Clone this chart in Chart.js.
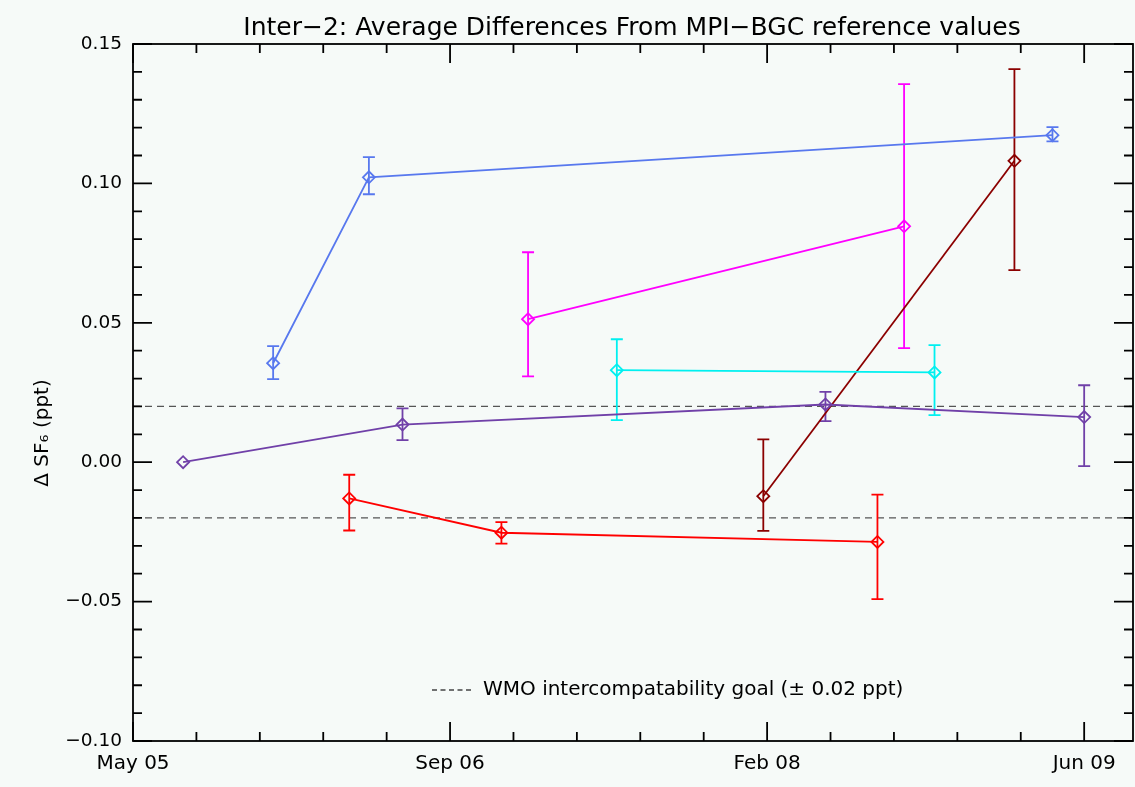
<!DOCTYPE html>
<html>
<head>
<meta charset="utf-8">
<script src="https://cdn.jsdelivr.net/npm/chart.js@4.4.1/dist/chart.umd.min.js"></script>
<style>
  body { margin: 0; background: #f6faf8; }
  #wrap { width: 1135px; height: 787px; }
</style>
</head>
<body>
<div id="wrap"><canvas id="sf6Chart" width="1135" height="787"></canvas></div>
<script>
// x values are days counted from the first date tick (May 05)
const dateTickDays = [0, 500, 1000, 1500];
const dateTickLabels = ['May 05', 'Sep 06', 'Feb 08', 'Jun 09'];
const yTickValues = [-0.10, -0.05, 0.00, 0.05, 0.10, 0.15];
const wmoGoal = 0.02;

const blueDays = [221, 372, 1450];
const blueDiff = [0.0355, 0.1022, 0.1173];
const blueHigh = [0.0416, 0.1094, 0.1202];
const blueLow = [0.0298, 0.0961, 0.1151];

const magentaDays = [623, 1216];
const magentaDiff = [0.0513, 0.0846];
const magentaHigh = [0.0753, 0.1356];
const magentaLow = [0.0308, 0.0409];

const cyanDays = [763, 1264];
const cyanDiff = [0.0330, 0.0322];
const cyanHigh = [0.0441, 0.0420];
const cyanLow = [0.0151, 0.0169];

const purpleDays = [79, 425, 1092, 1500];
const purpleDiff = [0.0000, 0.0135, 0.0207, 0.0162];
const purpleHigh = [null, 0.0193, 0.0252, 0.0276];
const purpleLow = [null, 0.0079, 0.0147, -0.0014];

const redDays = [341, 581, 1174];
const redDiff = [-0.0130, -0.0253, -0.0286];
const redHigh = [-0.0045, -0.0215, -0.0116];
const redLow = [-0.0245, -0.0292, -0.0491];

const darkRedDays = [994, 1390];
const darkRedDiff = [-0.0122, 0.1081];
const darkRedHigh = [0.0082, 0.1410];
const darkRedLow = [-0.0246, 0.0689];

const FONT = 'DejaVu Sans';

function series(label, color, days, diff, high, low) {
    return {
        label: label,
        data: days.map((d, i) => ({ x: d, y: diff[i] })),
        errHigh: high,
        errLow: low,
        borderColor: color,
        borderWidth: 1.8,
        pointStyle: 'rectRot',
        pointRadius: 6,
        pointBorderWidth: 1.8,
        pointBorderColor: color,
        pointBackgroundColor: 'rgba(0,0,0,0)',
        tension: 0
    };
}

// dashed goal lines and error bars, under the markers
const errorBars = {
    id: 'errorBars',
    beforeDatasetsDraw(chart) {
        const ctx = chart.ctx;
        const area = chart.chartArea;
        const ys = chart.scales.y;
        ctx.save();
        ctx.strokeStyle = '#555';
        ctx.lineWidth = 1.3;
        ctx.setLineDash([7, 5]);
        [wmoGoal, -wmoGoal].forEach(v => {
            const py = ys.getPixelForValue(v);
            ctx.beginPath();
            ctx.moveTo(area.left, py);
            ctx.lineTo(area.right, py);
            ctx.stroke();
        });
        ctx.setLineDash([]);
        chart.data.datasets.forEach((ds, di) => {
            const meta = chart.getDatasetMeta(di);
            ctx.strokeStyle = ds.borderColor;
            ctx.lineWidth = 1.8;
            meta.data.forEach((pt, i) => {
                if (ds.errHigh[i] == null) return;
                const top = ys.getPixelForValue(ds.errHigh[i]);
                const bot = ys.getPixelForValue(ds.errLow[i]);
                ctx.beginPath();
                ctx.moveTo(pt.x, top);
                ctx.lineTo(pt.x, bot);
                ctx.moveTo(pt.x - 6, top);
                ctx.lineTo(pt.x + 6, top);
                ctx.moveTo(pt.x - 6, bot);
                ctx.lineTo(pt.x + 6, bot);
                ctx.stroke();
            });
        });
        ctx.restore();
    }
};

// box frame with inward ticks on all four sides, plus the text
const frame = {
    id: 'frame',
    afterDraw(chart) {
        const ctx = chart.ctx;
        const a = chart.chartArea;
        const xs = chart.scales.x;
        const ys = chart.scales.y;
        ctx.save();
        ctx.strokeStyle = '#000';
        ctx.lineWidth = 1.8;
        ctx.strokeRect(a.left, a.top, a.right - a.left, a.bottom - a.top);
        ctx.beginPath();
        for (let d = 0; d <= 1500; d += 100) {
            const px = xs.getPixelForValue(d);
            const len = d % 500 === 0 ? 19 : 9;
            ctx.moveTo(px, a.bottom);
            ctx.lineTo(px, a.bottom - len);
            ctx.moveTo(px, a.top);
            ctx.lineTo(px, a.top + len);
        }
        for (let k = -10; k <= 15; k++) {
            const py = ys.getPixelForValue(k / 100);
            const len = k % 5 === 0 ? 19 : 9;
            ctx.moveTo(a.left, py);
            ctx.lineTo(a.left + len, py);
            ctx.moveTo(a.right, py);
            ctx.lineTo(a.right - len, py);
        }
        ctx.stroke();

        ctx.fillStyle = '#000';
        ctx.font = '25px "' + FONT + '"';
        ctx.textAlign = 'center';
        ctx.textBaseline = 'alphabetic';
        ctx.fillText('Inter\u22122: Average Differences From MPI\u2212BGC reference values', 632, 35);

        ctx.save();
        ctx.translate(43, 433);
        ctx.rotate(-Math.PI / 2);
        ctx.font = '20px "' + FONT + '"';
        ctx.textBaseline = 'middle';
        ctx.fillText('\u0394 SF\u2086 (ppt)', 0, 0);
        ctx.restore();

        ctx.strokeStyle = '#444';
        ctx.lineWidth = 1.4;
        ctx.setLineDash([5, 3.5]);
        ctx.beginPath();
        ctx.moveTo(432, 690);
        ctx.lineTo(474, 690);
        ctx.stroke();
        ctx.setLineDash([]);
        ctx.font = '20px "' + FONT + '"';
        ctx.textAlign = 'left';
        ctx.fillText('WMO intercompatability goal (\u00b1 0.02 ppt)', 483, 695);
        ctx.restore();
    }
};

new Chart(document.getElementById('sf6Chart'), {
    type: 'line',
    data: {
        datasets: [
            series('blue', '#5878ee', blueDays, blueDiff, blueHigh, blueLow),
            series('magenta', '#ff00ff', magentaDays, magentaDiff, magentaHigh, magentaLow),
            series('cyan', '#00f0f0', cyanDays, cyanDiff, cyanHigh, cyanLow),
            series('purple', '#7040a8', purpleDays, purpleDiff, purpleHigh, purpleLow),
            series('red', '#ff0000', redDays, redDiff, redHigh, redLow),
            series('dark red', '#8b0000', darkRedDays, darkRedDiff, darkRedHigh, darkRedLow)
        ]
    },
    options: {
        responsive: false,
        animation: false,
        layout: { autoPadding: false, padding: { top: 44, right: 2, left: 0, bottom: 0 } },
        plugins: { legend: { display: false }, tooltip: { enabled: false } },
        scales: {
            x: {
                type: 'linear',
                min: 0,
                max: 1577,
                afterBuildTicks: s => { s.ticks = dateTickDays.map(v => ({ value: v })); },
                afterFit: s => { s.height = 46; s.paddingLeft = 0; s.paddingRight = 0; },
                grid: { display: false, tickLength: 0 },
                border: { display: false },
                ticks: {
                    autoSkip: false,
                    maxRotation: 0,
                    padding: 11,
                    color: '#000',
                    font: { family: FONT, size: 20 },
                    callback: v => dateTickLabels[dateTickDays.indexOf(v)]
                }
            },
            y: {
                min: -0.10,
                max: 0.15,
                afterBuildTicks: s => { s.ticks = yTickValues.map(v => ({ value: v })); },
                afterFit: s => { s.width = 133; },
                grid: { display: false, tickLength: 0 },
                border: { display: false },
                ticks: {
                    padding: 11,
                    color: '#000',
                    font: { family: FONT, size: 18.5 },
                    callback: v => (v < 0 ? '\u2212' : '') + Math.abs(v).toFixed(2)
                }
            }
        }
    },
    plugins: [errorBars, frame]
});
</script>
</body>
</html>
